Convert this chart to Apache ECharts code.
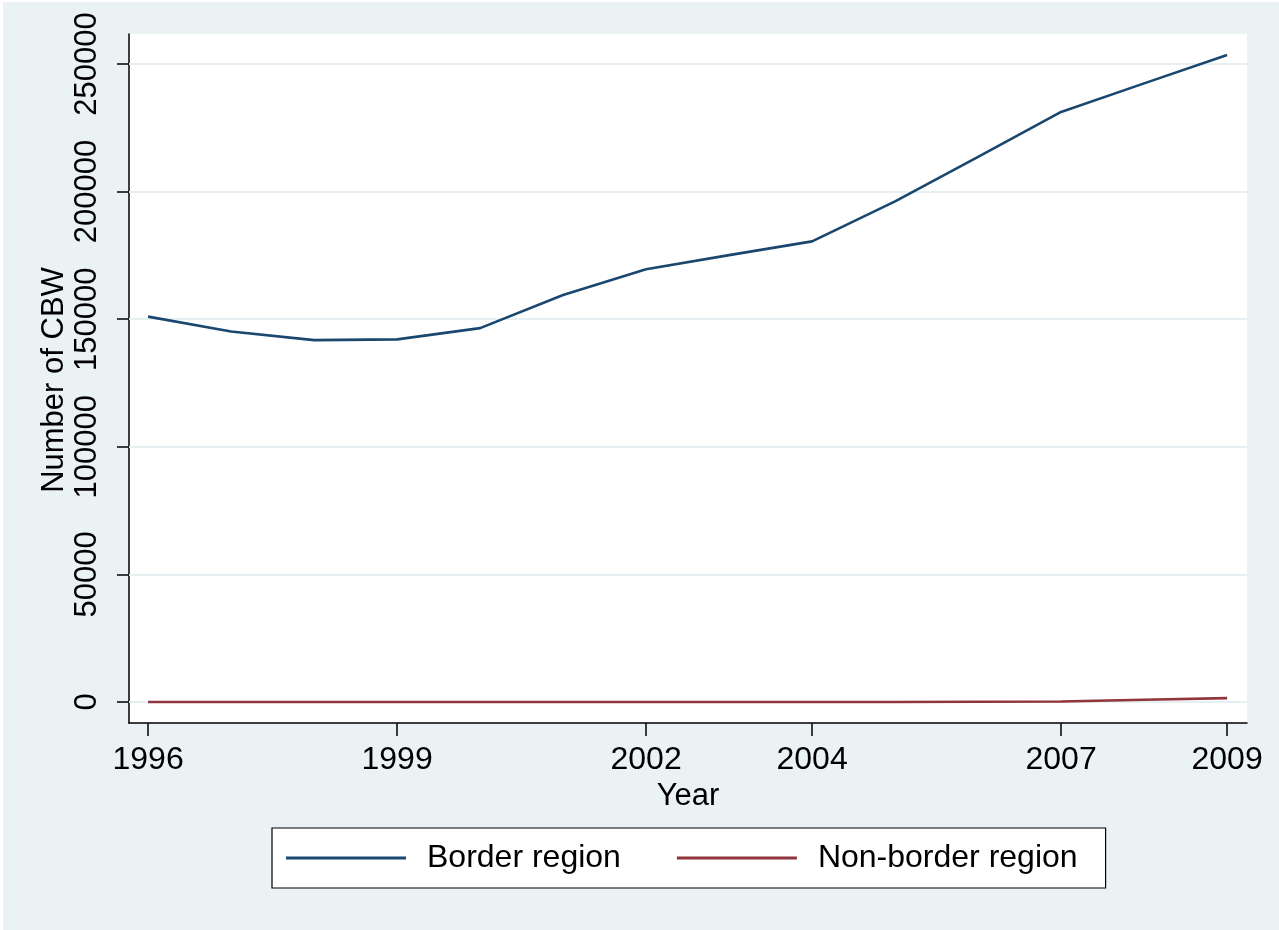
<!DOCTYPE html>
<html>
<head>
<meta charset="utf-8">
<script src="https://cdn.jsdelivr.net/npm/echarts@6/dist/echarts.min.js"></script>
<style>
html,body{margin:0;padding:0;background:#ffffff;}
#chart{width:1279px;height:930px;}
</style>
</head>
<body>
<div id="chart"></div>
<script>
const years = [1996,1997,1998,1999,2000,2001,2002,2003,2004,2005,2006,2007,2008,2009];
const borderRegion = [151000,145200,141800,142100,146500,159500,169600,175100,180500,196200,213600,231200,242400,253500];
const nonBorderRegion = [0,0,0,0,0,0,0,0,0,0,100,200,900,1500];
const xTicks = [1996,1999,2002,2004,2007,2009];
const yTicks = [0,50000,100000,150000,200000,250000];
const seriesNames = ['Border region','Non-border region'];
const yTitle = 'Number of CBW';
const xTitle = 'Year';

const font = 'Liberation Sans, Arial, Helvetica, sans-serif';
const chart = echarts.init(document.getElementById('chart'), null, {renderer:'canvas'});
const pair = (vals) => years.map((y,i)=>[y, vals[i]]);

chart.setOption({
  backgroundColor:'#eaf2f3',
  animation:false,
  textStyle:{fontFamily:font,color:'#000'},
  graphic:[
    {type:'rect',left:0,top:0,shape:{width:1279,height:2},style:{fill:'#ffffff'},silent:true},
    {type:'rect',left:0,top:0,shape:{width:3,height:930},style:{fill:'#ffffff'},silent:true},
    {type:'text',x:54,y:380,rotation:Math.PI/2,silent:true,
      style:{text:yTitle,fontSize:31,fontFamily:font,fill:'#000',align:'center',verticalAlign:'middle'}}
  ],
  grid:{left:129,top:34,right:32,bottom:207,show:true,backgroundColor:'#ffffff',borderWidth:0},
  xAxis:{
    type:'value',min:1995.77,max:2009.24,
    name:xTitle,nameLocation:'middle',nameGap:57,
    nameTextStyle:{fontSize:31,color:'#000',fontFamily:font},
    axisLine:{show:true,onZero:false,lineStyle:{color:'#000',width:1.5}},
    axisTick:{show:true,length:13,lineStyle:{color:'#000',width:1.5},customValues:xTicks},
    axisLabel:{fontSize:32,color:'#000',margin:21,fontFamily:font,customValues:xTicks,formatter:(v)=>String(v)},
    splitLine:{show:false}
  },
  yAxis:{
    type:'value',min:-8229,max:261755,
    axisLine:{show:true,onZero:false,lineStyle:{color:'#000',width:1.5}},
    axisTick:{show:true,length:12,lineStyle:{color:'#000',width:1.5},customValues:yTicks},
    axisLabel:{fontSize:31,color:'#000',rotate:90,margin:26,fontFamily:font,customValues:yTicks,formatter:(v)=>String(v)},
    splitLine:{show:false}
  },
  legend:{
    data:seriesNames.map(n=>({name:n,icon:'rect'})),
    left:272,top:828,
    orient:'horizontal',
    backgroundColor:'#ffffff',borderColor:'#000',borderWidth:1.2,borderRadius:0,
    padding:[14,28,14,14],
    itemWidth:120,itemHeight:3,itemGap:56,
    textStyle:{fontSize:32,color:'#000',fontFamily:font,padding:[0,0,0,16]}
  },
  series:[
    {
      name:'grid',type:'line',data:[[1996,0]],symbol:'none',lineStyle:{width:0},z:1,silent:true,
      markLine:{silent:true,symbol:'none',z:1,label:{show:false},
        lineStyle:{color:'#e6eff1',width:2,type:'solid'},
        data:yTicks.map(v=>({yAxis:v}))}
    },
    {name:seriesNames[0],type:'line',data:pair(borderRegion),symbol:'none',z:3,
      color:'#1a476f',lineStyle:{color:'#1a476f',width:2.6}},
    {name:seriesNames[1],type:'line',data:pair(nonBorderRegion),symbol:'none',z:3,
      color:'#90353b',lineStyle:{color:'#90353b',width:2.6}}
  ]
});
</script>
</body>
</html>
